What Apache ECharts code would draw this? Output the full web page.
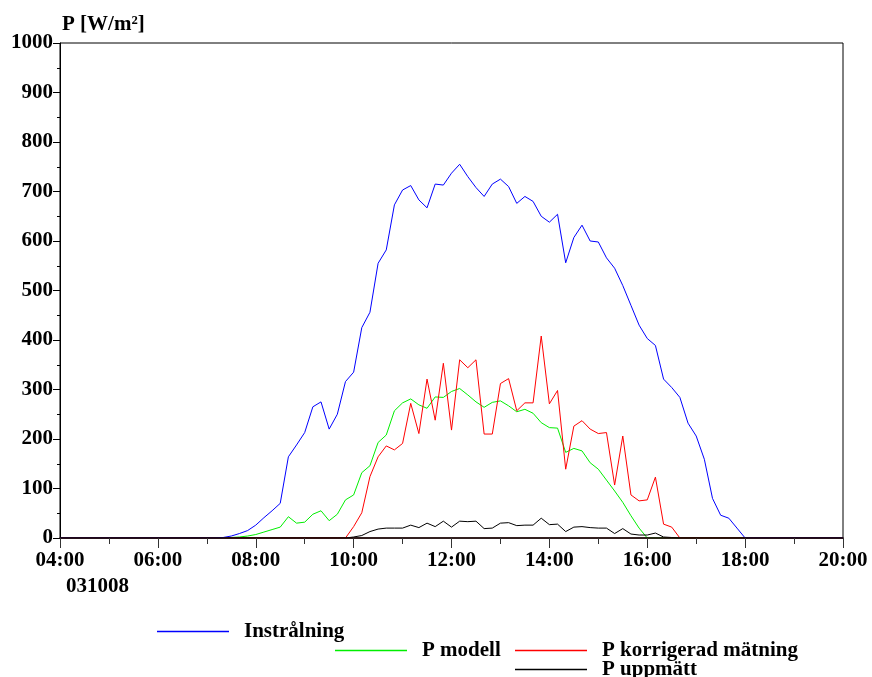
<!DOCTYPE html>
<html>
<head>
<meta charset="utf-8">
<script src="https://cdn.jsdelivr.net/npm/echarts@6/dist/echarts.min.js"></script>
<style>
html,body{margin:0;padding:0;background:#fff;}
#chart{width:872px;height:677px;}
</style>
</head>
<body>
<div id="chart"></div>
<script>
// Time categories: 04:00 .. 20:00 in 10 minute steps
var times = [];
for (var h = 4; h <= 20; h++) {
  for (var m = 0; m < 60; m += 10) {
    if (h === 20 && m > 0) break;
    times.push((h < 10 ? '0' : '') + h + ':' + (m === 0 ? '00' : m));
  }
}
var xTickLabels = ['04:00','06:00','08:00','10:00','12:00','14:00','16:00','18:00','20:00'];
var yTickLabels = [0,100,200,300,400,500,600,700,800,900,1000];
var dateLabel = '031008';
var yTitle = 'P [W/m\u00b2]';
var seriesNames = ['Instr\u00e5lning','P modell','P korrigerad m\u00e4tning','P uppm\u00e4tt'];

var instralning = [
  0,0,0,0,0,0,
  0,0,0,0,0,0,
  0,0,0,0,0,0,
  0,0,1,4,9,15,
  26,41,55,70,164,188,
  213,265,275,220,250,316,
  335,425,456,555,582,673,
  703,712,683,667,715,713,
  737,755,730,708,690,715,
  725,710,676,690,680,650,
  638,654,556,607,632,600,
  598,566,545,510,470,430,
  403,389,321,304,284,232,
  206,159,80,46,40,20,
  0,0,0,0,0,0,
  0,0,0,0,0,0,
  0
];
var pModell = [
  0,0,0,0,0,0,
  0,0,0,0,0,0,
  0,0,0,0,0,0,
  0,0,0,1,2,4,
  7,12,17,22,43,30,
  32,48,55,35,48,77,
  87,132,146,193,208,257,
  273,281,269,262,285,284,
  296,302,289,275,264,274,
  277,267,255,260,252,233,
  223,222,173,181,176,152,
  139,117,95,72,45,20,
  0,0,0,0,0,0,
  0,0,0,0,0,0,
  0,0,0,0,0,0,
  0,0,0,0,0,0,
  0
];
var pKorrigerad = [
  0,0,0,0,0,0,
  0,0,0,0,0,0,
  0,0,0,0,0,0,
  0,0,0,0,0,0,
  0,0,0,0,0,0,
  0,0,0,0,0,0,
  23,51,124,164,186,178,
  191,272,211,321,238,353,
  218,360,344,360,210,210,
  312,322,257,273,273,408,
  271,298,139,226,237,220,
  211,213,107,206,87,75,
  77,123,28,22,0,0,
  0,0,0,0,0,0,
  0,0,0,0,0,0,
  0,0,0,0,0,0,
  0
];
var pUppmatt = [
  0,0,0,0,0,0,
  0,0,0,0,0,0,
  0,0,0,0,0,0,
  0,0,0,0,0,0,
  0,0,0,0,0,0,
  0,0,0,0,0,0,
  2,5,13,18,20,20,
  20,26,21,30,23,34,
  22,34,33,34,19,20,
  30,31,25,26,26,40,
  27,28,13,22,23,21,
  20,20,9,19,8,6,
  6,10,2,1,0,0,
  0,0,0,0,0,0,
  0,0,0,0,0,0,
  0,0,0,0,0,0,
  0
];

function toHours(t){ var p = t.split(':'); return +p[0] + (+p[1])/60; }
function pairs(vals){ return times.map(function(t,i){ return [toHours(t), vals[i]]; }); }

var FONT = 'Liberation Serif';
var txt = {fontFamily: FONT, fontWeight: 'bold', fontSize: 21, color: '#000'};

function legendAt(name, left, cy, color){
  return {
    data: [{name: name, icon: 'rect', itemStyle: {color: color}}],
    left: left, top: cy - 11, padding: 0,
    itemWidth: 72, itemHeight: 1.5,
    selectedMode: false,
    textStyle: Object.assign({}, txt, {padding: [0,0,0,10]})
  };
}

var colors = ['#0000ff','#00ee00','#ff0000','#000000'];
var chart = echarts.init(document.getElementById('chart'));
chart.setOption({
  animation: false,
  backgroundColor: '#fff',
  grid: {left: 60, top: 43, right: 29, bottom: 139, show: true, borderColor: '#000', borderWidth: 1},
  xAxis: {
    type: 'value', min: 4, max: 20, interval: 2, z: 5,
    axisLine: {lineStyle: {color: '#1a0000', width: 1.5}},
    axisTick: {length: 10, lineStyle: {color: '#333'}},
    minorTick: {show: true, splitNumber: 2, length: 6, lineStyle: {color: '#333'}},
    splitLine: {show: false},
    axisLabel: Object.assign({}, txt, {margin: 12, formatter: function(v){
      var idx = Math.round((v - 4) / 2); return xTickLabels[idx] || ''; }})
  },
  yAxis: {
    type: 'value', min: 0, max: 1000, interval: 100,
    name: yTitle, nameLocation: 'end', nameGap: 8,
    nameTextStyle: Object.assign({}, txt, {align: 'left', padding: [0,0,0,2]}),
    axisLine: {show: true, lineStyle: {color: '#000'}},
    axisTick: {show: true, length: 7, lineStyle: {color: '#000'}},
    minorTick: {show: true, splitNumber: 2, length: 3, lineStyle: {color: '#000'}},
    splitLine: {show: false},
    axisLabel: Object.assign({}, txt, {margin: 7, formatter: function(v){
      var idx = yTickLabels.indexOf(v); return idx >= 0 ? String(yTickLabels[idx]) : ''; }})
  },
  legend: [
    legendAt(seriesNames[0], 157, 632, colors[0]),
    legendAt(seriesNames[1], 335, 651, colors[1]),
    legendAt(seriesNames[2], 515, 651, colors[2]),
    legendAt(seriesNames[3], 515, 670, colors[3])
  ],
  graphic: [
    {type: 'text', left: 66, top: 576, style: {text: dateLabel, font: 'bold 21px "Liberation Serif"', fill: '#000'}}
  ],
  series: [
    {name: seriesNames[1], type: 'line', data: pairs(pModell), symbol: 'none', lineStyle: {color: colors[1], width: 1}, itemStyle: {color: colors[1]}},
    {name: seriesNames[2], type: 'line', data: pairs(pKorrigerad), symbol: 'none', lineStyle: {color: colors[2], width: 1}, itemStyle: {color: colors[2]}},
    {name: seriesNames[3], type: 'line', data: pairs(pUppmatt), symbol: 'none', lineStyle: {color: colors[3], width: 1}, itemStyle: {color: colors[3]}},
    {name: seriesNames[0], type: 'line', data: pairs(instralning), symbol: 'none', lineStyle: {color: colors[0], width: 1}, itemStyle: {color: colors[0]}}
  ]
});
</script>
</body>
</html>
